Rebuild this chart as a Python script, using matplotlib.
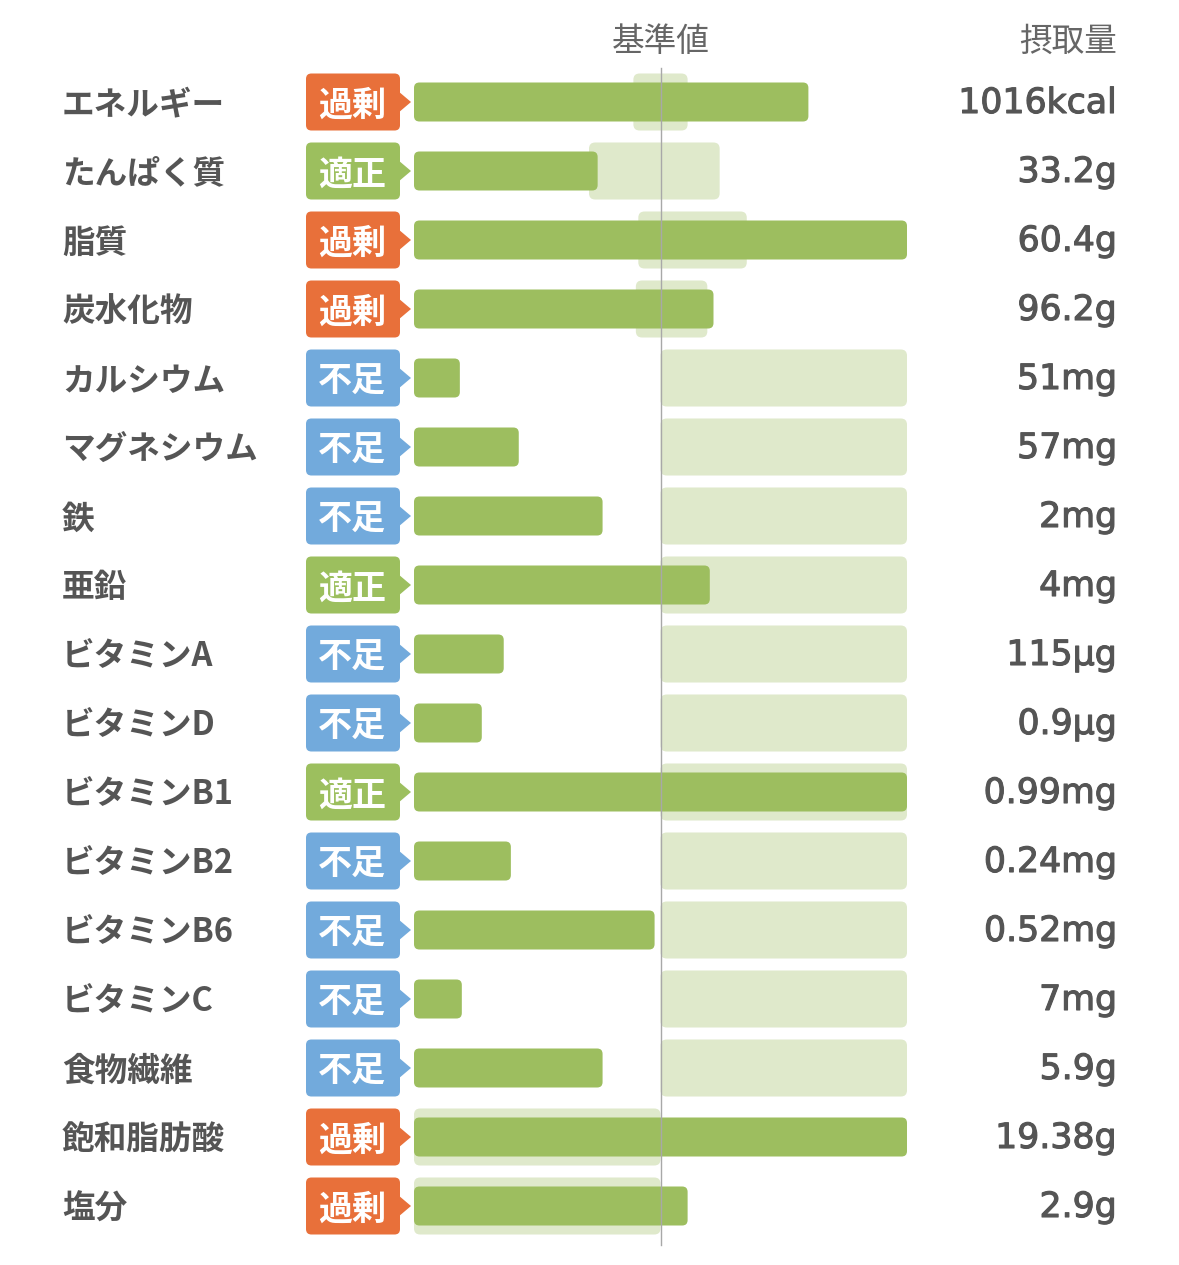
import numpy as np
import matplotlib
matplotlib.use("Agg")
import matplotlib.pyplot as plt
import matplotlib.patheffects as pe
from matplotlib.patches import FancyBboxPatch, Polygon

plt.rcParams['font.family'] = ['Noto Sans CJK JP', 'DejaVu Sans']

# ---------------- data ----------------
nutrients = ["エネルギー", "たんぱく質", "脂質", "炭水化物", "カルシウム", "マグネシウム",
             "鉄", "亜鉛", "ビタミンA", "ビタミンD", "ビタミンB1", "ビタミンB2",
             "ビタミンB6", "ビタミンC", "食物繊維", "飽和脂肪酸", "塩分"]
status = ["過剰", "適正", "過剰", "過剰", "不足", "不足", "不足", "適正", "不足", "不足",
          "適正", "不足", "不足", "不足", "不足", "過剰", "過剰"]
# intake as % of the reference value (bars clip at 200%)
intake_pct = [160, 74.5, 200, 121.5, 18.6, 42.5, 76.5, 120, 36.4, 27.5,
              200, 39.3, 97.6, 19.4, 76.5, 200, 111]
# recommended range as % of reference value
range_lo = [89, 71, 91, 90, 100, 100, 100, 100, 100, 100, 100, 100, 100, 100, 100, 0, 0]
range_hi = [111, 124, 135, 119, 200, 200, 200, 200, 200, 200, 200, 200, 200, 200, 200, 100, 100]
intake_text = ["1016kcal", "33.2g", "60.4g", "96.2g", "51mg", "57mg", "2mg", "4mg",
               "115µg", "0.9µg", "0.99mg", "0.24mg", "0.52mg", "7mg", "5.9g",
               "19.38g", "2.9g"]

status_colors = {"過剰": "#e8703a", "適正": "#9cbf5e", "不足": "#72aadc"}
bar_color = "#9dbe5f"
range_color = "#dfe9cb"
text_color = "#555555"

# ---------------- layout (figure px -> data) ----------------
W, H = 1179, 1265
px_x = 2.465          # px per percent
px_y = 69.0           # px per row
x0_px, y0_px = 414, 102
xmax_clip = 200

fig = plt.figure(figsize=(W / 100, H / 100), dpi=100)
ax = fig.add_axes([0, 0, 1, 1])
ax.set_xlim(-x0_px / px_x, (W - x0_px) / px_x)
ax.set_ylim((H - y0_px) / px_y, -y0_px / px_y)
ax.axis('off')

aspect = px_x / px_y
dy_txt = 3 / px_y   # nudge text down a bit
thick = [pe.withStroke(linewidth=0.8, foreground=text_color)]


def rbox(x, y, w, h, r, color, z):
    p = FancyBboxPatch((x, y), w, h, boxstyle=f"round,pad=0,rounding_size={r}",
                       mutation_aspect=aspect, fc=color, ec="none", zorder=z)
    ax.add_patch(p)


bar_h = 39 / px_y
rng_h = 57 / px_y
badge_l = (306 - x0_px) / px_x
badge_r = (400 - x0_px) / px_x
tip = (411 - x0_px) / px_x

for i, name in enumerate(nutrients):
    # recommended range
    rbox(range_lo[i], i - rng_h / 2, range_hi[i] - range_lo[i], rng_h, 2.5, range_color, 1)
    # intake bar
    v = min(intake_pct[i], xmax_clip)
    rbox(0, i - bar_h / 2, v, bar_h, 2.2, bar_color, 2)
    # status badge
    c = status_colors[status[i]]
    rbox(badge_l, i - rng_h / 2, badge_r - badge_l, rng_h, 2.2, c, 3)
    ax.add_patch(Polygon([(badge_r - 0.5, i - 0.15), (tip, i), (badge_r - 0.5, i + 0.15)],
                         closed=True, fc=c, ec="none", zorder=3))
    ax.text((badge_l + badge_r) / 2 - 0.5, i + dy_txt, status[i], color="white",
            fontsize=24.5, fontweight="bold", ha="center", va="center", zorder=4)
    # name and intake
    ax.text((62 - x0_px) / px_x, i + dy_txt, name, color=text_color, fontsize=23.5,
            fontweight="bold", ha="left", va="center")
    ax.text((1117 - x0_px) / px_x, i + 1 / px_y, intake_text[i], color=text_color,
            fontsize=25, family=['DejaVu Sans'], ha="right", va="center",
            path_effects=thick)

# reference line
ax.plot([100, 100], [(68 - y0_px) / px_y, (1245 - y0_px) / px_y],
        color="#a8a8a8", lw=1, zorder=5)

# headers
hy = (42 - y0_px) / px_y
ax.text(100, hy, "基準値", color="#666666", fontsize=23.5, ha="center", va="center")
ax.text((1117 - x0_px) / px_x, hy, "摂取量", color="#666666", fontsize=23.5,
        ha="right", va="center")

fig.savefig("out.png", dpi=100, facecolor="white")
